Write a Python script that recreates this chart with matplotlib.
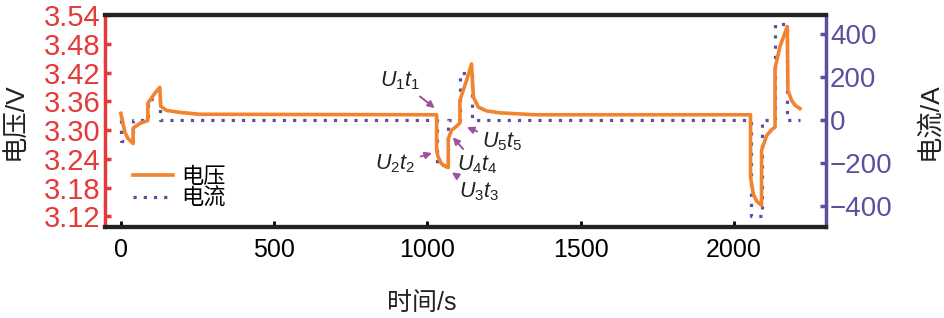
import numpy as np
import matplotlib.pyplot as plt

plt.rcParams['font.family'] = ['Liberation Sans', 'Noto Sans CJK SC']
plt.rcParams['mathtext.fontset'] = 'custom'
plt.rcParams['mathtext.rm'] = 'Liberation Sans'
plt.rcParams['mathtext.it'] = 'Liberation Sans:italic'

# voltage curve (time in s, voltage in V)
t_volt = [0, 13, 23, 40, 40, 62, 88, 88, 111, 127, 130, 149, 192, 258,
          1030, 1030, 1035, 1046, 1063, 1068, 1068, 1079, 1095, 1106, 1106, 1128, 1144,
          1150, 1166, 1193, 1237, 1350,
          2054, 2054, 2063, 2074, 2090, 2090, 2107, 2123, 2134, 2134, 2150, 2166, 2174,
          2176, 2188, 2199, 2215]
volt = [3.335, 3.296, 3.283, 3.272, 3.304, 3.314, 3.320, 3.356, 3.377, 3.389, 3.350, 3.341, 3.337, 3.333,
        3.332, 3.258, 3.244, 3.230, 3.223, 3.222, 3.282, 3.300, 3.308, 3.315, 3.362, 3.404, 3.438,
        3.369, 3.348, 3.340, 3.336, 3.332,
        3.332, 3.202, 3.167, 3.152, 3.143, 3.258, 3.289, 3.301, 3.306, 3.429, 3.474, 3.502, 3.516,
        3.383, 3.362, 3.352, 3.345]

# current steps (time in s, current in A)
t_curr = [0, 0, 40, 88, 127, 1030, 1068, 1106, 1144, 2054, 2090, 2134, 2174, 2215]
curr = [0, -100, 0, 100, 0, -210, 0, 220, 0, -450, 0, 450, 0, 0]

x_ticks = [0, 500, 1000, 1500, 2000]
v_ticks = [3.12, 3.18, 3.24, 3.30, 3.36, 3.42, 3.48, 3.54]
i_ticks = [-400, -200, 0, 200, 400]

red = '#E33A3A'
purple = '#5B4F9E'
orange = '#F2832F'
arrow_c = '#A0509E'

fig = plt.figure(figsize=(9.45, 3.18), dpi=100)
ax = fig.add_axes([0.111, 0.286, 0.763, 0.667])
ax2 = ax.twinx()

l1, = ax.plot(t_volt, volt, color=orange, lw=2.6, zorder=3, label='电压')
l2, = ax2.step(t_curr, curr, where='post', color=purple, lw=2.3,
               linestyle=(0, (1, 2.2)), label='电流')
ax.set_zorder(ax2.get_zorder() + 1)
ax.patch.set_visible(False)

ax.set_xlim(-52, 2300)
ax.set_ylim(3.098, 3.54)
ax2.set_ylim(-500, 490)

ax.set_xticks(x_ticks)
ax.set_yticks(v_ticks)
ax.set_yticklabels(['%.2f' % v for v in v_ticks])
ax2.set_yticks(i_ticks)

ax.tick_params(axis='x', direction='in', length=4, width=2, labelsize=18, pad=8)
ax.tick_params(axis='y', direction='in', length=4, width=2.5, colors=red, labelsize=21, pad=3)
ax2.tick_params(axis='y', direction='in', length=4, width=2.5, colors=purple, labelsize=20, pad=3)

for a in (ax, ax2):
    a.spines['top'].set_linewidth(3)
    a.spines['bottom'].set_linewidth(3)
    a.spines['top'].set_color('#222222')
    a.spines['bottom'].set_color('#222222')
ax.spines['left'].set_color(red)
ax.spines['left'].set_linewidth(2.5)
ax.spines['right'].set_visible(False)
ax2.spines['left'].set_visible(False)
ax2.spines['right'].set_color(purple)
ax2.spines['right'].set_linewidth(2.5)

ax.set_xlabel('时间/s', fontsize=18, color='#222222', fontweight='light')
ax.xaxis.set_label_coords(0.44, -0.30)
ax.set_ylabel('电压/V', fontsize=19, color='#222222', fontweight='light')
ax.yaxis.set_label_coords(-0.108, 0.5)
ax2.set_ylabel('电流/A', fontsize=19, color='#222222', fontweight='light')
ax2.yaxis.set_label_coords(1.126, 0.5)

leg = ax.legend(handles=[l1, l2], loc='upper left', bbox_to_anchor=(0.02, 0.345),
                frameon=False, fontsize=16, handlelength=1.8, handletextpad=0.4,
                labelspacing=0.0, borderpad=0.1, prop={'size': 16, 'weight': 'light'})

# point annotations on the second pulse
ann = [
    (r'$U_1t_1$', (1024, 3.346), (910, 3.403)),
    (r'$U_2t_2$', (1015, 3.252), (895, 3.229)),
    (r'$U_3t_3$', (1080, 3.212), (1170, 3.172)),
    (r'$U_4t_4$', (1083, 3.285), (1163, 3.227)),
    (r'$U_5t_5$', (1129, 3.306), (1245, 3.275)),
]
for txt, tip, pos in ann:
    ax.annotate(txt, xy=tip, xytext=pos, fontsize=15.5, ha='center', va='center',
                color='#222222',
                arrowprops=dict(arrowstyle='-|>', color=arrow_c, lw=1.4,
                                mutation_scale=10, shrinkA=2, shrinkB=0))

plt.savefig('out.png', dpi=100)
plt.close()
